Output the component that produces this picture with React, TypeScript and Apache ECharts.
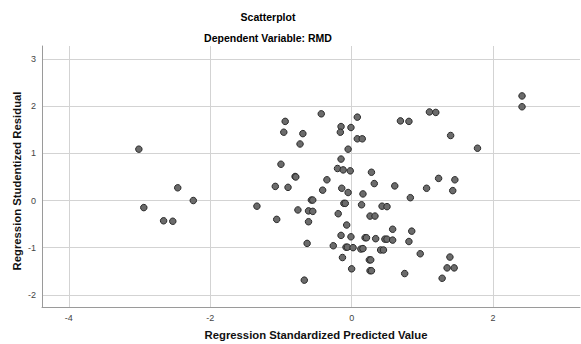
import React, { useEffect, useRef } from "react";
import * as echarts from "echarts";

const titleText = "Scatterplot";
const subtitleText = "Dependent Variable: RMD";
const xName = "Regression Standardized Predicted Value";
const yName = "Regression Studentized Residual";

const xTicks = [-4, -2, 0, 2];
const yTicks = [-2, -1, 0, 1, 2, 3];

const predicted = [
  -3.01, -2.94, -2.66, -2.53, -2.46, -2.24, -1.34, -0.94, -0.96, -0.69,
  -0.73, -0.43, -0.15, -0.16, -0.01, 0.08, 0.08, 0.15, -0.05, -0.15,
  -0.2, -0.12, -0.02, 0.28, 0.32, 0.16, -0.05, -0.14, -0.41, -0.35,
  -1.0, -0.8, -0.79, -1.08, -0.9, -0.57, -0.55, -0.76, -0.61, -0.55,
  -0.11, -0.09, 0.14, 0.43, 0.5, -1.06, -0.61, -0.63, -0.67, -0.19,
  -0.07, 0.26, 0.33, -0.15, -0.01, 0.19, 0.21, 0.34, 0.47, 0.5,
  -0.26, -0.08, -0.06, 0.02, 0.13, 0.16, 0.41, 0.45, -0.13, 0.25,
  0.27, 0.0, 0.26, 0.28, 0.58, 0.85, 0.58, 0.81, 0.97, 1.39,
  1.35, 1.45, 0.75, 1.28, 0.83, 2.41, 2.41, 1.1, 1.19, 0.69,
  0.81, 1.4, 1.78, 0.61, 1.06, 1.23, 1.46, 1.43,
];

const residual = [
  1.09, -0.15, -0.43, -0.44, 0.27, 0.0, -0.12, 1.68, 1.45, 1.42,
  1.2, 1.84, 1.57, 1.45, 1.55, 1.77, 1.31, 1.31, 1.09, 0.88,
  0.68, 0.65, 0.63, 0.6, 0.36, 0.14, 0.17, 0.26, 0.22, 0.44,
  0.77, 0.51, 0.5, 0.3, 0.28, 0.01, 0.01, -0.2, -0.22, -0.23,
  -0.06, -0.06, -0.09, -0.12, -0.13, -0.4, -0.45, -0.91, -1.69, -0.28,
  -0.52, -0.33, -0.33, -0.74, -0.77, -0.79, -0.79, -0.81, -0.82, -0.82,
  -0.96, -0.99, -0.99, -1.0, -1.03, -1.02, -1.05, -1.05, -1.21, -1.26,
  -1.26, -1.45, -1.49, -1.49, -0.61, -0.65, -0.84, -0.87, -1.13, -1.2,
  -1.43, -1.43, -1.55, -1.65, 0.06, 2.22, 1.99, 1.88, 1.87, 1.69,
  1.68, 1.38, 1.11, 0.31, 0.26, 0.47, 0.44, 0.21,
];

const FONT = "'Liberation Sans', Arial, sans-serif";

export default function App() {
  const ref = useRef<HTMLDivElement>(null);

  useEffect(() => {
    if (!ref.current) return;
    const chart = echarts.init(ref.current, null, { renderer: "svg" });
    const n = Math.min(predicted.length, residual.length);
    const points: number[][] = [];
    for (let i = 0; i < n; i++) points.push([predicted[i], residual[i]]);

    const nameStyle = { fontFamily: FONT, fontSize: 11.3, fontWeight: "bold", fill: "#111" };

    chart.setOption({
      animation: false,
      backgroundColor: "#ffffff",
      title: [
        {
          text: titleText,
          left: 268,
          top: 11,
          padding: 0,
          textAlign: "center",
          textStyle: { fontFamily: FONT, fontSize: 10.5, fontWeight: "bold", color: "#000" },
        },
        {
          text: subtitleText,
          left: 268,
          top: 32,
          padding: 0,
          textAlign: "center",
          textStyle: { fontFamily: FONT, fontSize: 10.5, fontWeight: "bold", color: "#000" },
        },
      ],
      graphic: [
        {
          type: "text",
          x: 316,
          y: 335,
          style: { ...nameStyle, text: xName, textAlign: "center", textVerticalAlign: "middle" },
        },
        {
          type: "text",
          x: 17,
          y: 181,
          rotation: Math.PI / 2,
          style: { ...nameStyle, text: yName, textAlign: "center", textVerticalAlign: "middle" },
        },
      ],
      grid: { left: 42, right: 1, top: 46, bottom: 37, containLabel: false },
      xAxis: {
        type: "value",
        min: -4.38,
        max: 3.23,
        axisLine: { show: true, onZero: false, lineStyle: { color: "#9a9a9a", width: 1 } },
        axisTick: { show: false, customValues: xTicks },
        axisLabel: {
          customValues: xTicks,
          fontFamily: FONT,
          fontSize: 9,
          color: "#444",
          margin: 6,
        },
        splitLine: { show: true, lineStyle: { color: "#d3d3d3", width: 1 } },
      },
      yAxis: {
        type: "value",
        min: -2.26,
        max: 3.28,
        axisLine: { show: true, onZero: false, lineStyle: { color: "#9a9a9a", width: 1 } },
        axisTick: { show: false, customValues: yTicks },
        axisLabel: {
          customValues: yTicks,
          fontFamily: FONT,
          fontSize: 9,
          color: "#444",
          margin: 6,
        },
        splitLine: { show: true, lineStyle: { color: "#d3d3d3", width: 1 } },
      },
      series: [
        {
          type: "scatter",
          data: points,
          symbol: "circle",
          symbolSize: 6.5,
          itemStyle: { color: "#6b6b6b", borderColor: "#2a2a2a", borderWidth: 1, opacity: 1 },
          emphasis: { disabled: true },
        },
      ],
    });

    return () => chart.dispose();
  }, []);

  return (
    <div
      ref={ref}
      style={{ position: "fixed", left: 0, top: 0, width: 581, height: 344 }}
    />
  );
}
